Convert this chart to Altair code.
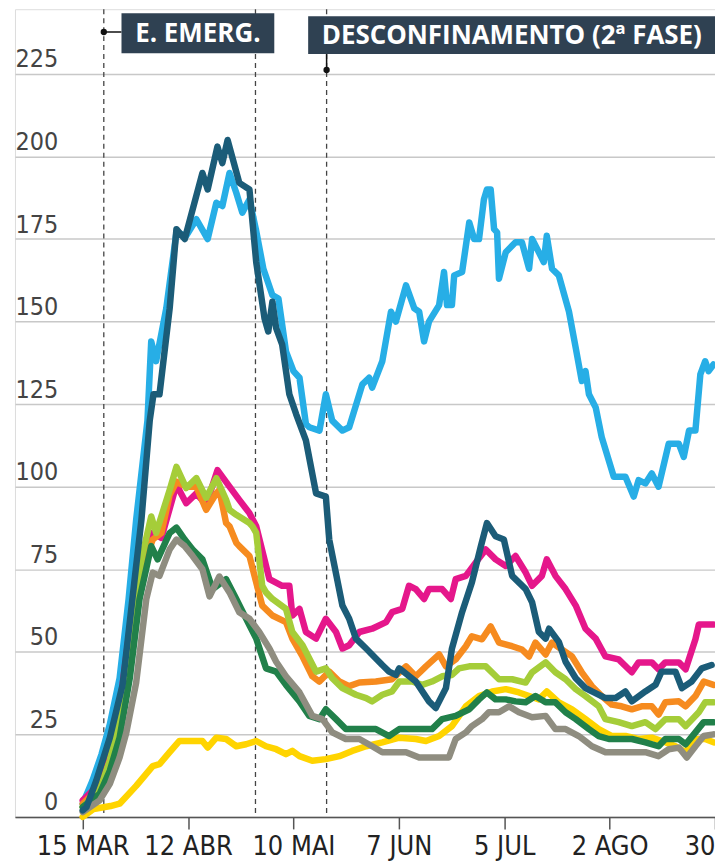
import altair as alt
import pandas as pd

# day offsets from 15 March
LIGHT_BLUE = [(0,4),(2.6,11),(5,19),(7.2,28),(9.8,42),(12.2,66),(14.2,90),(17.2,120),(18.2,144),(19.5,138),
 (22.2,154),(24.9,177),(27.5,176),(30.2,181),(33.2,175),(35.5,186),(37.1,185),(39,195),(40.8,189),(42.4,183),
 (44.3,187),(46,178),(48,166),(50.4,158),(52,157),(54,141),(56,135),(57.6,133),(59.3,119),(60.2,118),
 (62.9,117),(64.6,128),(66.3,120),(69,117),(70.8,118),(74.3,131),(76.1,133),(76.9,130),(79.6,138),(81.9,153),
 (83.2,150),(85.9,161),(88.1,154),(89.4,153),(90.7,144),(92,150),(94.7,155),(96,165),(96.8,155),(98.1,155),
 (98.7,164),(100.8,165),(102.7,180),(104,175),(105.3,175),(106.6,187),(107.4,190),(108.4,190),(109.3,178),
 (110.1,177),(110.6,163),(112.4,171),(115,174),(116.7,174),(118.6,166),(119.4,175),(121.2,171),(122.5,168),
 (123.3,176),(124.7,166),(126.5,164),(129.2,153),(131,142),(132.6,132),(133.6,135),(134.5,128),(136.3,124),
 (137.9,115),(141.1,103),(144.2,103),(146.4,97),(147.7,102),(149.5,101),(151.2,104),(153,100),(155.7,113),
 (158.4,113),(159.7,109),(161.1,117),(162.8,117),(164.1,134),(165.4,138),(166.3,135),(167.6,137)]

DARK_BLUE = [(0,2),(1,3),(3.6,11),(7.2,24),(10.6,40),(13,64),(15.6,90),(17.8,120),(18.8,128),(20.4,128),
 (23.1,154),(24.9,178),(27.1,175),(31.8,195),(33.2,190),(35.8,203),(37.1,198),(38.5,205),(41.6,192),(44.3,190),
 (46.1,168),(48.3,151),(49.3,147),(50.4,156),(51.4,148),(53,143),(54.9,128),(56.7,122),(59.3,114),(62,98),
 (64.6,97),(65.5,84),(69,64),(70.8,60),(72.6,54),(75.3,51),(77.9,48),(79.6,46),(81.4,44),(83.2,43),(84.1,45),
 (88.5,41),(92,35),(93.8,33),(96.5,39),(98.1,51),(100.8,62),(103.4,71),(105.8,82),(107.4,89),(109.7,85),
 (111.9,84),(114.1,73),(117.7,69),(119.4,65),(121.2,56),(123,54),(123.9,57),(126.5,53),(128.3,47),(131,42),
 (133.6,39),(135.3,38),(138.9,36),(141.6,36),(144.2,38),(145.9,35),(149.5,38),(152.2,40),(153.8,44),
 (157.5,44),(159.2,39),(161.8,41),(164.5,45),(167.1,46)]

MAGENTA = [(0,5),(4.5,10),(7.2,19),(9.8,33),(13.5,66),(16,78),(18.6,86),(20.9,84.5),(24.9,100.6),(27.5,95),
 (30.2,98),(32.8,94.5),(35.8,105),(39,100),(41.6,96),(44.3,92),(46.1,88),(49.6,72),(53,70),(54.9,70),(55.7,61),
 (57.6,63),(59.3,56),(62,54),(64.6,60),(67.3,56),(69,51),(70.8,52),(73.5,56),(76.9,57),(80.6,59),(82.2,62),
 (84.9,63),(86.7,70),(88.5,69),(90.7,66),(92,69),(95.5,69),(97.8,66),(99.1,72),(101.8,73),(104.4,77),(107.1,81),
 (109.7,78),(112.4,76),(115,79),(117.7,74),(119.4,70),(122,73),(123.3,78),(125.6,73),(128.3,69),(131,64),
 (133.6,57),(136.3,54),(138.9,48.6),(142.4,47.7),(145.9,43.8),(147.7,46.8),(151.2,46.8),(153,44.7),(154.8,46.8),
 (158.4,46.8),(160.2,44.7),(162.8,53.8),(163.7,58.3),(167.6,58.3)]

ORANGE = [(0,4),(4.5,9),(7.2,17),(9.8,30),(13.5,64),(16,76),(18.6,84),(20.9,86),(23.1,97.5),(24.9,101.5),
 (27.5,100),(30.2,100),(32.8,93),(35.5,98),(36.3,99),(38.1,89),(39,88),(40.8,83),(41.6,82),(44.3,79),(46.1,71),
 (47.7,64),(50.4,61),(54,59),(55.7,54),(58.4,48.6),(61,42.6),(62.9,41),(65.5,44),(68.2,41),(70.8,39.6),
 (73.5,40.7),(77.9,41),(82.2,41.7),(85.9,45.6),(88.5,42.6),(91.2,45.6),(94.7,49.2),(96.5,45.6),(99.1,47.7),
 (101.8,51.7),(103.4,54.7),(106.1,53.8),(108.4,57.7),(110.6,52.8),(114.1,51.7),(116.7,50.7),(118.6,48.6),
 (120.3,52.8),(123,49.2),(124.7,52.8),(127.3,50.7),(130,48.6),(132.6,43.8),(135.3,39.6),(137.9,36.6),(140.6,34),
 (143.2,33.5),(145.9,32.6),(148.5,33.5),(151.2,33.5),(153,31),(154.8,34.7),(158.4,35),(160.2,33.5),
 (162.8,36.6),(165,41),(167.6,40)]

LIME = [(0,3),(4.5,8),(7.2,17),(9.8,30),(13.5,65),(16,80),(18.2,91),(19.5,86),(23.1,99),(24.9,106),(27.5,99.6),
 (30.2,102.6),(32.8,96.6),(35.5,102.6),(38.1,96),(39,93),(40.8,91.5),(44.3,89),(45.1,88),(46.1,86),(47.7,70),
 (48.7,68),(50.4,66),(54,63),(55.7,56),(58.4,52),(62,44),(64.6,45),(66.3,42),(69,39),(72.6,37),(75.3,36),
 (76.9,35),(79.6,37),(82.2,38),(84.1,41),(87.5,41),(90.2,40),(92.8,41),(95.5,42.6),(98.1,43),(100,45),
 (102.7,45.6),(105.3,45.6),(107.1,45.6),(110.6,41.7),(114.1,41.7),(117.7,40.7),(119.4,43.8),(123,46.8),
 (125.6,43.8),(128.3,41.7),(131,38.7),(133.6,36.6),(137.1,33.5),(138.9,29.6),(142.4,28.7),(145.9,27.5),
 (149.5,28.7),(152.2,26.6),(154.8,29.6),(158.4,29.6),(160.2,27.5),(163.7,31.7),(165.4,34.7),(167.6,34.7)]

DARK_GREEN = [(0,3),(4.5,7),(7.2,14),(9.8,24),(12.5,42),(15.1,66),(18.2,82),(19.9,78),(23.1,86),(24.9,87.6),
 (27.1,84),(29.2,81),(31.8,78),(34.5,69),(38.1,72),(40.8,66),(44.3,58),(46.1,54),(48.7,45),(51.4,44),(54,40),
 (57.6,35),(60.2,30.6),(62.9,29.6),(64.6,32.6),(67.3,29.6),(69.9,26.6),(77.9,26.6),(81.4,24.5),(84.1,26.6),
 (92.8,26.6),(95.5,29.6),(99.1,30.6),(102.7,32.6),(105.3,35.6),(107.4,37.7),(109.7,35.6),(112.4,35.6),
 (115,35),(117.7,34.7),(120.3,36.6),(123,34.7),(125.6,34.7),(128.3,31.7),(131,29.6),(134.5,26.6),(137.1,24.5),
 (139.8,23.6),(145.9,23.6),(149.5,22.6),(153,21.4),(154.8,23.6),(158.4,23.6),(160.2,22),(162.8,25.6),
 (165,28.7),(167.6,28.7)]

GRAY = [(0,1.5),(4.5,5),(7.2,10),(9.8,18),(11.6,25.6),(14.2,40.7),(16.9,66),(18.6,74),(20.4,73),(23.1,81),
 (24.9,84),(27.1,82),(29.2,79),(31.8,75),(33.7,66.8),(36.3,72.8),(39,68),(41.6,62),(44.3,60),(46.9,56),
 (49.6,51),(51.4,47),(54,42.6),(57.6,37.7),(61,30.6),(63.7,29.6),(66.3,25.6),(69.9,23.6),(73.5,23.6),
 (76.9,21.4),(79.6,19.6),(85.9,19.6),(89.4,18),(97.3,18),(99.1,23.6),(101.8,25.6),(103.4,27.5),(106.1,29.6),
 (107.9,31.7),(110.6,31.7),(113.3,33.5),(115.9,31.7),(119.4,30.2),(123,30.6),(125.6,26.6),(128.3,26.6),
 (131.8,24.5),(135.3,21.4),(138.9,19.6),(149.5,19.6),(153,18.4),(155.7,20.5),(158.4,21),(160.5,18),
 (162.8,21.4),(165,24.5),(167.6,25)]

YELLOW = [(0,0),(2.9,2.4),(7.4,3.3),(9.8,4),(14.2,9.4),(18.6,15.4),(20.4,16),(23.1,19.6),(25.7,23),(31.8,23),
 (33.2,21),(35.5,24),(38.1,23.6),(40.8,21.4),(43.4,22),(46.1,23),(48.7,21.4),(51.4,20.5),(54,19),(55.7,20),
 (57.6,18.4),(61,17),(64.6,17.5),(68.2,18.4),(71.6,20),(75.3,21.4),(79.6,22.6),(84.1,24),(88.5,23.6),(91.2,23),
 (94.7,24.5),(98.1,27.5),(101.8,33.5),(105.3,36.6),(108.8,38),(112.4,38.7),(115.9,37.7),(118.6,36.6),
 (121.2,35.6),(123.3,38),(126.5,34.7),(130,32.6),(133.6,29.6),(137.1,26.6),(140.6,24.5),(144.2,24.5),
 (147.7,23.6),(151.2,24),(154.8,22.6),(157.5,21.4),(160.2,19.6),(162.8,23.6),(165.4,23.6),(167.6,22.6)]

# drawing order bottom -> top
SERIES = [("yellow", YELLOW, "#ffd400"), ("lightblue", LIGHT_BLUE, "#27aee6"),
          ("magenta", MAGENTA, "#e5178b"), ("orange", ORANGE, "#f68b1f"),
          ("lime", LIME, "#a5cd39"), ("darkgreen", DARK_GREEN, "#21804a"),
          ("gray", GRAY, "#8f8d80"), ("darkblue", DARK_BLUE, "#1b5c78")]

TICK_DAYS = [0, 28, 56, 84, 112, 140, 168]
TICK_LABELS = ["15 MAR", "12 ABR", "10 MAI", "7 JUN", "5 JUL", "2 AGO", "30"]
Y_TICKS = [0, 25, 50, 75, 100, 125, 150, 175, 200, 225]
EVENT_DAYS = [5.6, 45.9, 64.8]

# annotation boxes: label, x-from, x-to (days), y-from, y-to (values), text position
BOXES = [
    {"label": "E. EMERG.", "x": 10.3, "x2": 50.9, "y": 231.3, "y2": 243.4, "tx": 30.6, "ty": 237.1},
    {"label": "DESCONFINAMENTO (2ª FASE)", "x": 59.9, "x2": 168.1, "y": 231.0, "y2": 242.5, "tx": 114.0, "ty": 236.5},
]
CONNECT_H = {"x": 5.6, "x2": 10.3, "y": 237.7}
CONNECT_V = {"x": 64.8, "y": 226.2, "y2": 231.0}
DOTS = [{"x": 5.6, "y": 237.7}, {"x": 64.8, "y": 226.2}]

X_DOMAIN = [-18, 168]
Y_DOMAIN = [0, 244.6]

FONT = "Liberation Sans Narrow, DejaVu Sans Condensed, Roboto, sans-serif"

label_expr = " : ".join(
    f"datum.value == {d} ? '{l}'" for d, l in zip(TICK_DAYS, TICK_LABELS)) + " : ''"

xscale = alt.Scale(domain=X_DOMAIN, nice=False, zero=False)
yscale = alt.Scale(domain=Y_DOMAIN, nice=False)

x_axis = alt.Axis(values=TICK_DAYS, labelExpr=label_expr, grid=False, domainColor="#555",
                  domainWidth=1.5, tickColor="#555", tickWidth=1.5, tickSize=12,
                  labelFontSize=27, labelColor="#222", labelFont=FONT, labelPadding=5,
                  labelFlush=True, labelOverlap=False, title=None)
y_axis = alt.Axis(values=Y_TICKS, grid=True, gridColor="#c8c8c8", gridWidth=1.5, domain=False,
                  ticks=False, tickSize=0, labelAlign="right", labelPadding=-43,
                  labelBaseline="alphabetic", labelOffset=-7, labelFontSize=25,
                  labelColor="#444", labelFont=FONT, title=None)

base_axes = alt.Chart(pd.DataFrame({"d": [0], "v": [0]})).mark_point(opacity=0).encode(
    x=alt.X("d:Q", scale=xscale, axis=x_axis),
    y=alt.Y("v:Q", scale=yscale, axis=y_axis),
)

rules = alt.Chart(pd.DataFrame({"d": EVENT_DAYS})).mark_rule(
    color="#444", strokeWidth=1.3, strokeDash=[5, 4]).encode(
    x=alt.X("d:Q", scale=xscale))

layers = [base_axes, rules]
for name, pts, col in SERIES:
    df = pd.DataFrame(pts, columns=["d", "v"])
    layers.append(alt.Chart(df).mark_line(color=col, strokeWidth=6.5, strokeJoin="round",
                                          strokeCap="round").encode(
        x=alt.X("d:Q", scale=xscale), y=alt.Y("v:Q", scale=yscale)))

conn_h = alt.Chart(pd.DataFrame([CONNECT_H])).mark_rule(color="#111", strokeWidth=1.5).encode(
    x=alt.X("x:Q", scale=xscale), x2="x2:Q", y=alt.Y("y:Q", scale=yscale))
conn_v = alt.Chart(pd.DataFrame([CONNECT_V])).mark_rule(color="#111", strokeWidth=1.5).encode(
    x=alt.X("x:Q", scale=xscale), y=alt.Y("y:Q", scale=yscale), y2="y2:Q")
dots = alt.Chart(pd.DataFrame(DOTS)).mark_point(filled=True, color="#111", size=40, opacity=1).encode(
    x=alt.X("x:Q", scale=xscale), y=alt.Y("y:Q", scale=yscale))
boxes_df = pd.DataFrame(BOXES)
boxes = alt.Chart(boxes_df).mark_rect(color="#2f4152").encode(
    x=alt.X("x:Q", scale=xscale), x2="x2:Q", y=alt.Y("y:Q", scale=yscale), y2="y2:Q")
box_text = alt.Chart(boxes_df).mark_text(color="white", fontSize=26, fontWeight="bold",
                                         font="Open Sans", baseline="middle", align="center").encode(
    x=alt.X("tx:Q", scale=xscale), y=alt.Y("ty:Q", scale=yscale), text="label:N")

layers += [conn_h, conn_v, dots, boxes, box_text]

chart = alt.layer(*layers).properties(
    width=702, height=810,
    autosize=alt.AutoSizeParams(type="none"),
    padding={"left": 7, "top": 0, "right": 0, "bottom": 50},
).configure_view(stroke=None).configure(background="white")

chart.save("out.html", embed_options={"renderer": "svg", "actions": False})
